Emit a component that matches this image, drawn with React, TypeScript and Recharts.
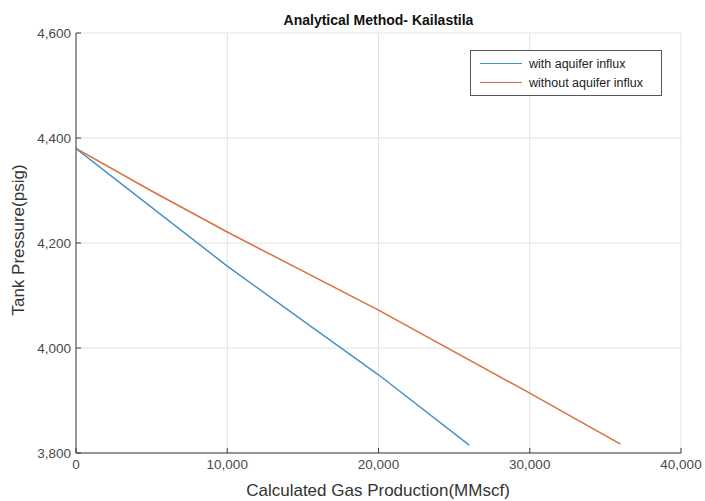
import { CartesianGrid, Label, Line, LineChart, XAxis, YAxis } from "recharts";

// (MMscf vs psig)
const withAquiferX = [0, 5000, 10000, 15000, 20000, 26000];
const withAquiferP = [4380, 4268, 4156, 4052, 3949, 3815];
const withoutAquiferX = [0, 5000, 10000, 20000, 30000, 36000];
const withoutAquiferP = [4380, 4299, 4221, 4072, 3914, 3817];

const xTicks = [0, 10000, 20000, 30000, 40000];
const yTicks = [3800, 4000, 4200, 4400, 4600];

const BLUE = "#4592c8";
const ORANGE = "#d9703f";
const AXIS = "#3c3c3c";
const FONT = "'Liberation Sans', Arial, Helvetica, sans-serif";

const withAquifer = withAquiferX.map((x, i) => ({ x, p: withAquiferP[i] }));
const withoutAquifer = withoutAquiferX.map((x, i) => ({ x, p: withoutAquiferP[i] }));

const fmt = (v: number) => v.toLocaleString("en-US");
const tickStyle = { fontSize: 13.5, fill: "#4a4a4a", fontFamily: FONT };

// drawn as an overlay so the chart doesn't reserve room for it
function LegendBox() {
  const row = (color: string, text: string) => (
    <div style={{ display: "flex", alignItems: "center", height: 19 }}>
      <span style={{ display: "inline-block", width: 42, borderTop: `1.5px solid ${color}`, marginRight: 7 }} />
      <span>{text}</span>
    </div>
  );
  return (
    <div
      style={{
        position: "absolute",
        left: 470,
        top: 50,
        border: "1px solid #555",
        background: "#fff",
        padding: "3px 8px 3px 9px",
        width: 173,
        fontSize: 12.5,
        fontFamily: FONT,
        color: "#222",
      }}
    >
      {row(BLUE, "with aquifer influx")}
      {row(ORANGE, "without aquifer influx")}
    </div>
  );
}

export default function App() {
  return (
    <div style={{ position: "absolute", left: 0, top: 0, width: 705, height: 501, background: "#fff" }}>
      <LineChart width={705} height={501} margin={{ top: 33, right: 24, bottom: 0, left: 0 }}>
        <CartesianGrid stroke="#e2e2e2" />
        <XAxis
          dataKey="x"
          type="number"
          domain={[0, 40000]}
          ticks={xTicks}
          tickFormatter={fmt}
          height={48}
          stroke={AXIS}
          tickSize={-5}
          tickMargin={11}
          tick={tickStyle}
          allowDataOverflow
        >
          <Label
            content={() => (
              <text x={378} y={496} textAnchor="middle" fontSize={17} fontFamily={FONT} fill="#333">
                Calculated Gas Production(MMscf)
              </text>
            )}
          />
        </XAxis>
        <XAxis
          xAxisId="top"
          orientation="top"
          type="number"
          domain={[0, 40000]}
          ticks={xTicks}
          tickFormatter={() => ""}
          height={0}
          stroke={AXIS}
          tickSize={-5}
        />
        <YAxis
          type="number"
          domain={[3800, 4600]}
          ticks={yTicks}
          tickFormatter={fmt}
          width={76}
          stroke={AXIS}
          tickSize={-5}
          tickMargin={10}
          tick={tickStyle}
          allowDataOverflow
        >
          <Label
            content={() => (
              <text
                x={24}
                y={240}
                transform="rotate(-90 24 240)"
                textAnchor="middle"
                fontSize={17}
                fontFamily={FONT}
                fill="#333"
              >
                Tank Pressure(psig)
              </text>
            )}
          />
        </YAxis>
        <YAxis
          yAxisId="right"
          orientation="right"
          type="number"
          domain={[3800, 4600]}
          ticks={yTicks}
          tickFormatter={() => ""}
          width={0}
          stroke={AXIS}
          tickSize={-5}
        />
        <Line
          data={withAquifer}
          dataKey="p"
          name="with aquifer influx"
          stroke={BLUE}
          strokeWidth={1.5}
          dot={false}
          type="linear"
          isAnimationActive={false}
        />
        <Line
          data={withoutAquifer}
          dataKey="p"
          name="without aquifer influx"
          stroke={ORANGE}
          strokeWidth={1.5}
          dot={false}
          type="linear"
          isAnimationActive={false}
        />
      </LineChart>
      <div
        style={{
          position: "absolute",
          left: 0,
          width: 757,
          top: 12,
          textAlign: "center",
          fontFamily: FONT,
          fontWeight: "bold",
          fontSize: 14,
          color: "#111",
        }}
      >
        Analytical Method- Kailastila
      </div>
      <LegendBox />
    </div>
  );
}
